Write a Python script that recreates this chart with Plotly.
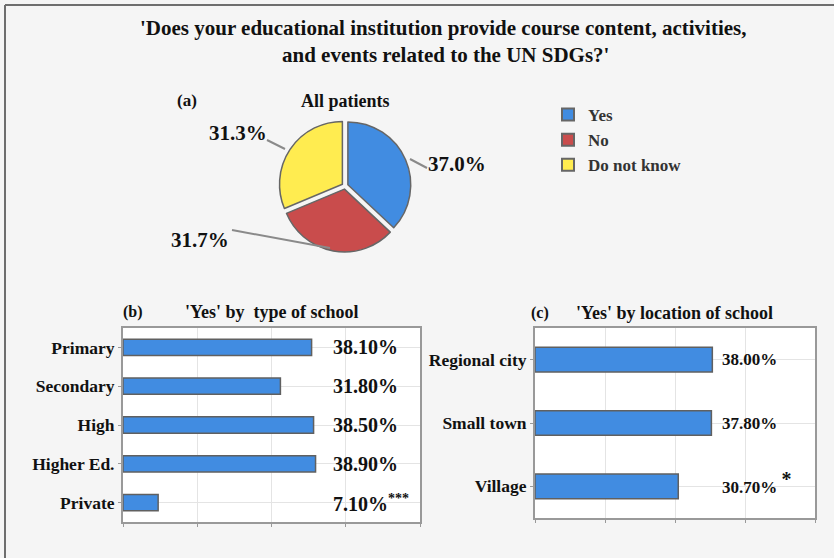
import plotly.graph_objects as go

W, H = 834, 558

# ---- data ----
pie_labels = ["Yes", "No", "Do not know"]
pie_values = [37.0, 31.7, 31.3]
pie_colors = ["#418ce1", "#c94c4c", "#ffec50"]

school_types = ["Primary", "Secondary", "High", "Higher Ed.", "Private"]
school_yes = [38.10, 31.80, 38.50, 38.90, 7.10]
school_marks = ["", "", "", "", "***"]

locations = ["Regional city", "Small town", "Village"]
location_yes = [38.00, 37.80, 30.70]
location_marks = ["", "", "*"]

FONT = "Liberation Serif"
BAR_COLOR = "#418ce1"


def px(x):
    return x / W


def py(y):
    return 1 - y / H


def bfont(size, color="#111"):
    return dict(family=FONT, size=size, color=color, weight="bold")


fig = go.Figure()

# pie
fig.add_trace(go.Pie(
    labels=pie_labels, values=pie_values, sort=False, direction="clockwise",
    rotation=0, marker=dict(colors=pie_colors, line=dict(color="#666", width=1.5)),
    pull=[0.05, 0.05, 0.05], textinfo="none", hoverinfo="label+percent",
    domain=dict(x=[px(345 - 66), px(345 + 66)], y=[py(186 + 66), py(186 - 66)]),
    showlegend=True,
))

# bars (b)
fig.add_trace(go.Bar(
    x=school_yes, y=school_types, orientation="h", width=0.42,
    marker=dict(color=BAR_COLOR, line=dict(color="#606060", width=1.5)),
    xaxis="x", yaxis="y", showlegend=False,
))
# bars (c)
fig.add_trace(go.Bar(
    x=location_yes, y=locations, orientation="h", width=0.39,
    marker=dict(color=BAR_COLOR, line=dict(color="#606060", width=1.5)),
    xaxis="x2", yaxis="y2", showlegend=False,
))

axis_common = dict(range=[0, 60], dtick=15, showticklabels=False, showgrid=True,
                   gridcolor="#e4e4e4", gridwidth=1, zeroline=False,
                   showline=True, linecolor="#999", linewidth=2, mirror=True,
                   ticks="outside", ticklen=3, tickcolor="#999", automargin=False)
ycommon = dict(showgrid=True, gridcolor="#e4e4e4", showline=True, linecolor="#999",
               linewidth=2, mirror=True, ticks="outside", ticklen=3, tickcolor="#999",
               autorange="reversed", tickfont=bfont(17.5), automargin=False)

annotations = []
# main title
annotations.append(dict(text="'Does your educational institution provide course content, activities,",
                        x=px(443), y=py(28), xref="paper", yref="paper", showarrow=False,
                        font=bfont(21), xanchor="center", yanchor="middle"))
annotations.append(dict(text="and events related to the UN SDGs?'",
                        x=px(445), y=py(55), xref="paper", yref="paper", showarrow=False,
                        font=bfont(21), xanchor="center", yanchor="middle"))
# panel (a)
annotations.append(dict(text="(a)", x=px(187), y=py(100), xref="paper", yref="paper",
                        showarrow=False, font=bfont(17), xanchor="center", yanchor="middle"))
annotations.append(dict(text="All patients", x=px(345), y=py(101), xref="paper", yref="paper",
                        showarrow=False, font=bfont(18), xanchor="center", yanchor="middle"))

# pie labels with leader lines
pie_label_pos = [(457, 164), (200, 240), (238, 133)]
pie_leaders = [((410, 159), (427, 168)), ((330, 248), (232, 230)), ((285, 149), (267, 140))]
shapes = []
for v, (tx, ty), ((x0, y0), (x1, y1)) in zip(pie_values, pie_label_pos, pie_leaders):
    annotations.append(dict(text=f"{v:.1f}%", x=px(tx), y=py(ty), xref="paper", yref="paper",
                            showarrow=False, font=bfont(21), xanchor="center", yanchor="middle"))
    shapes.append(dict(type="line", xref="paper", yref="paper", x0=px(x0), y0=py(y0),
                       x1=px(x1), y1=py(y1), line=dict(color="#8a8a8a", width=2)))

# panel titles
annotations.append(dict(text="(b)", x=px(133), y=py(312), xref="paper", yref="paper",
                        showarrow=False, font=bfont(16), xanchor="center", yanchor="middle"))
annotations.append(dict(text="'Yes' by  type of school", x=px(272), y=py(312), xref="paper",
                        yref="paper", showarrow=False, font=bfont(18), xanchor="center",
                        yanchor="middle"))
annotations.append(dict(text="(c)", x=px(540), y=py(313), xref="paper", yref="paper",
                        showarrow=False, font=bfont(16), xanchor="center", yanchor="middle"))
annotations.append(dict(text="'Yes' by location of school", x=px(674), y=py(313), xref="paper",
                        yref="paper", showarrow=False, font=bfont(18), xanchor="center",
                        yanchor="middle"))

# value labels
for cat, v, m in zip(school_types, school_yes, school_marks):
    t = f"{v:.2f}%" + (f"<sup>{m}</sup>" if m else "")
    annotations.append(dict(text=t, x=42.0, y=cat, xref="x", yref="y", showarrow=False,
                            font=bfont(20), xanchor="left", yanchor="middle"))
for cat, v, m in zip(locations, location_yes, location_marks):
    t = f"{v:.2f}%" + (f" <sup><span style='font-size:20px'>{m}</span></sup>" if m else "")
    annotations.append(dict(text=t, x=39.6, y=cat, xref="x2", yref="y2", showarrow=False,
                            font=bfont(17), xanchor="left", yanchor="middle",
                            yshift=4 if m else 0))

# outer frame (top and left)
shapes.append(dict(type="line", xref="paper", yref="paper", x0=px(5), y0=py(5), x1=1, y1=py(5),
                   line=dict(color="#6e6e6e", width=2)))
shapes.append(dict(type="line", xref="paper", yref="paper", x0=px(5), y0=py(5), x1=px(5), y1=0,
                   line=dict(color="#6e6e6e", width=2)))

fig.update_layout(
    width=W, height=H, margin=dict(l=0, r=0, t=0, b=0),
    paper_bgcolor="#f5f5f5", plot_bgcolor="#ffffff",
    font=dict(family=FONT, color="#111"),
    xaxis=dict(domain=[px(123), px(420)], anchor="y", **axis_common),
    yaxis=dict(domain=[py(522), py(328)], anchor="x", **ycommon),
    xaxis2=dict(domain=[px(535), px(815)], anchor="y2", **axis_common),
    yaxis2=dict(domain=[py(518), py(328)], anchor="x2", **ycommon),
    legend=dict(x=px(548), y=py(97), xanchor="left", yanchor="top",
                font=dict(family=FONT, size=17, color="#333", weight="bold"),
                bgcolor="rgba(0,0,0,0)", itemsizing="constant", tracegroupgap=0),
    annotations=annotations, shapes=shapes, bargap=0.5,
)

fig.write_html("out.html", config={"displayModeBar": False},
               post_script="document.body.style.margin='0';document.body.style.padding='0';"
                           "document.documentElement.style.overflow='hidden';")
